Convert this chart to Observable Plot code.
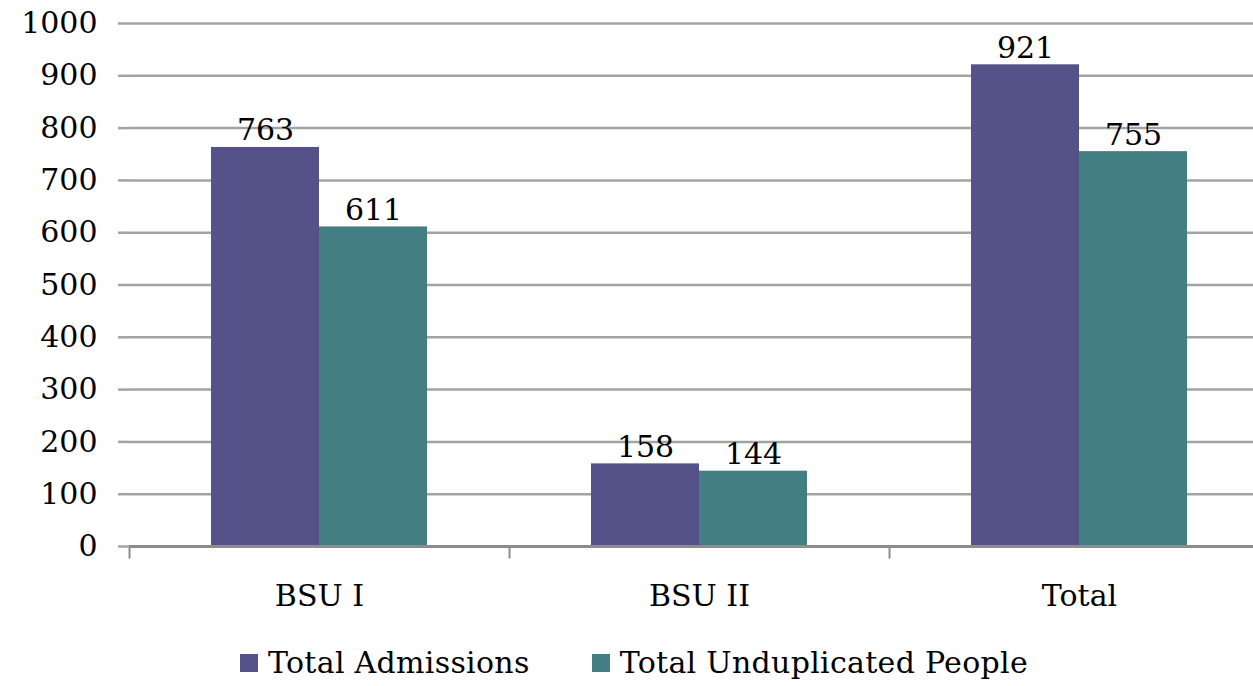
<!DOCTYPE html>
<html><head><meta charset="utf-8">
<script src="https://cdn.jsdelivr.net/npm/d3@7"></script>
<script src="https://cdn.jsdelivr.net/npm/@observablehq/plot@0.6"></script>
<style>
html,body{margin:0;padding:0;background:#fff;overflow:hidden;width:1253px;height:686px;position:relative}
#chart{position:absolute;left:0;top:0;width:1269px}
#chart svg{max-width:none !important;width:1269px;height:625px}
#legend{position:absolute;left:240px;top:645px;display:flex;align-items:center;font-family:"DejaVu Serif";font-size:30px;letter-spacing:0.3px;color:#000;white-space:nowrap}
.item{display:flex;align-items:center;margin-right:62px}
.sw{width:18px;height:18px;margin-right:10px}
</style></head><body><div id="chart"></div><div id="legend"></div>
<script>
const categories = ["BSU I", "BSU II", "Total"];
const seriesNames = ["Total Admissions", "Total Unduplicated People"];
const admissions = [763, 158, 921];
const unduplicated = [611, 144, 755];
const yTicks = [0, 100, 200, 300, 400, 500, 600, 700, 800, 900, 1000];
const colors = ["#55528a", "#437e82"];

const data = categories.flatMap((c, i) => [
  {cat: c, series: seriesNames[0], value: admissions[i]},
  {cat: c, series: seriesNames[1], value: unduplicated[i]}
]);

const plot = Plot.plot({
  width: 1269, height: 625,
  marginTop: 23, marginBottom: 79, marginLeft: 129, marginRight: 0,
  style: {fontFamily: "DejaVu Serif", fontSize: "30px", color: "#000", background: "#fff"},
  fx: {domain: categories, padding: 0, label: null},
  x: {domain: seriesNames, paddingInner: 0, paddingOuter: 0.75, axis: null},
  y: {domain: [0, 1000], label: null},
  color: {domain: seriesNames, range: colors},
  marks: [
    Plot.ruleY(yTicks.filter(d => d > 0), {stroke: "#a3a3a3", strokeWidth: 2.5}),
    Plot.barY(data, {fx: "cat", x: "series", y: "value", fill: "series"}),
    Plot.ruleY([0], {stroke: "#8c8c8c", strokeWidth: 3}),
    Plot.frame({anchor: "left", insetTop: 523, insetBottom: -11, stroke: "#8c8c8c", strokeWidth: 2}),
    Plot.axisY({ticks: yTicks, tickFormat: d => String(d), tickSize: 11, tickPadding: 21, stroke: "#a3a3a3", strokeWidth: 2.5, label: null, line: true}),
    Plot.axisFx({anchor: "bottom", tickSize: 0, tickPadding: 38, label: null}),
    Plot.text(data, {fx: "cat", x: "series", y: "value", text: d => String(d.value), lineAnchor: "bottom", dy: -7})
  ]
});
document.getElementById("chart").appendChild(plot);

const legend = document.getElementById("legend");
seriesNames.forEach((s, i) => {
  const it = document.createElement("div");
  it.className = "item";
  const sw = document.createElement("div");
  sw.className = "sw";
  sw.style.background = colors[i];
  const t = document.createElement("span");
  t.textContent = s;
  it.appendChild(sw); it.appendChild(t);
  legend.appendChild(it);
});
</script>
</body></html>
